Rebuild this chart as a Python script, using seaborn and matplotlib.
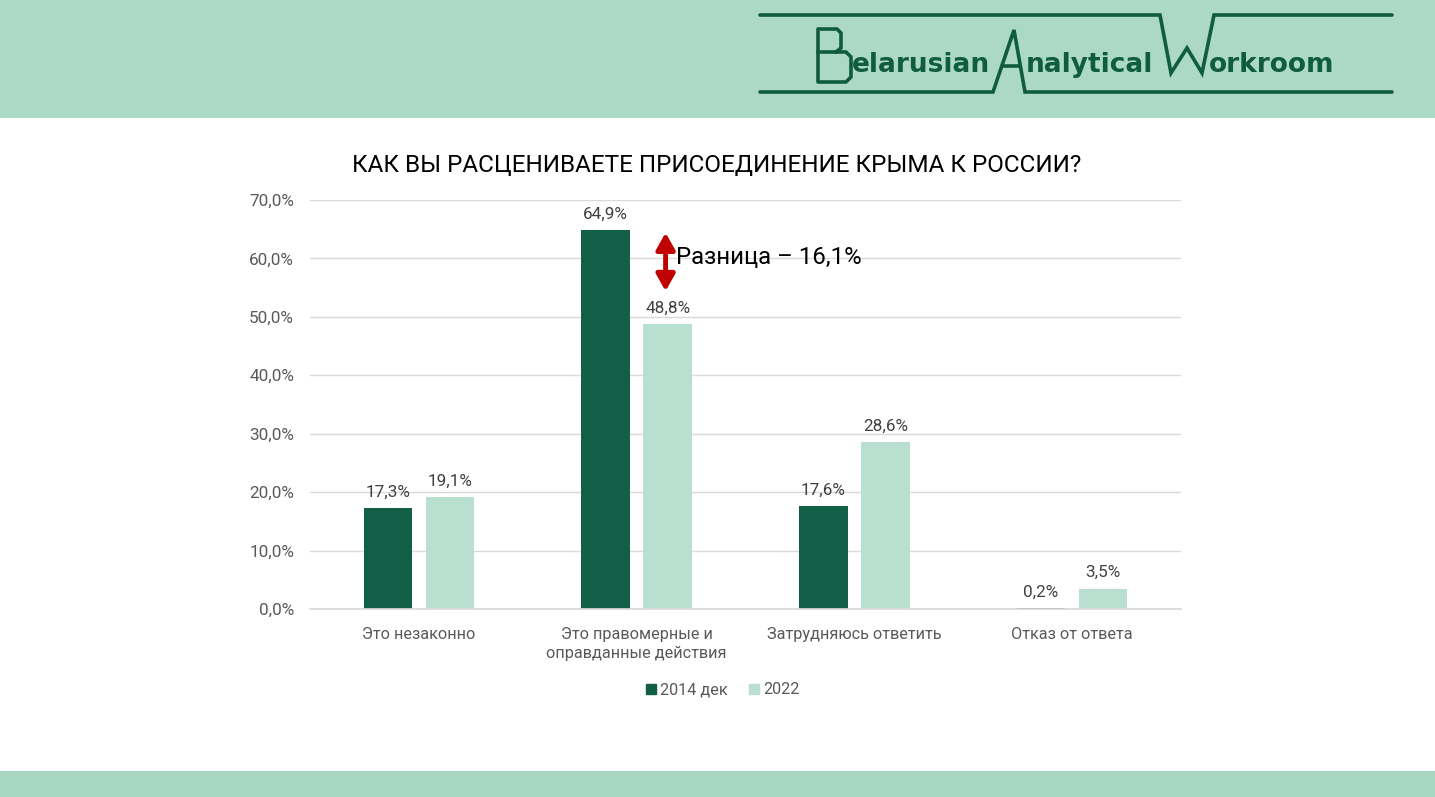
import matplotlib
matplotlib.use("Agg")
import matplotlib.pyplot as plt
import seaborn as sns
import pandas as pd
from matplotlib.patches import Rectangle, FancyArrowPatch
from matplotlib.lines import Line2D
from matplotlib.ticker import FuncFormatter

categories = ["Это незаконно", "Это правомерные и\nоправданные действия",
              "Затрудняюсь ответить", "Отказ от ответа"]
series_names = ["2014 дек", "2022"]
values_2014 = [17.3, 64.9, 17.6, 0.2]
values_2022 = [19.1, 48.8, 28.6, 3.5]
y_ticks = [0, 10, 20, 30, 40, 50, 60, 70]
title = "КАК ВЫ РАСЦЕНИВАЕТЕ ПРИСОЕДИНЕНИЕ КРЫМА К РОССИИ?"
note = "Разница – 16,1%"

colors = ["#135e46", "#b9dfd1"]

sns.set_theme(style="white")
plt.rcParams['font.family'] = ['Roboto', 'DejaVu Sans']

W, H = 1435, 797
fig = plt.figure(figsize=(W / 100, H / 100), dpi=100)

def fx(x):
    return x / W

def fy(y):
    return 1 - y / H

# background bands
band = "#acd9c6"
fig.add_artist(Rectangle((0, fy(118)), 1, 118 / H, transform=fig.transFigure,
                         facecolor=band, edgecolor="none", zorder=0))
fig.add_artist(Rectangle((0, 0), 1, 26 / H, transform=fig.transFigure,
                         facecolor="#a9d8c2", edgecolor="none", zorder=0))

# logo
lc = "#0f5c3f"
top_pts = [(760, 15), (1160, 15), (1171, 73), (1187, 48), (1202, 73), (1214, 15), (1392, 15)]
bot_pts = [(760, 92), (993, 92), (1014, 30), (1025, 92), (1392, 92)]
for pts in (top_pts, bot_pts):
    fig.add_artist(Line2D([fx(p[0]) for p in pts], [fy(p[1]) for p in pts],
                          transform=fig.transFigure, color=lc, lw=2.6,
                          solid_joinstyle="miter"))
fig.add_artist(Line2D([fx(1003), fx(1020)], [fy(66), fy(66)], transform=fig.transFigure,
                      color=lc, lw=2.6))
b_pts = [(836, 52), (841, 48), (841, 33), (837, 29), (818, 29), (818, 82),
         (846, 82), (851, 77), (851, 57), (846, 52), (818, 52)]
fig.add_artist(Line2D([fx(p[0]) for p in b_pts], [fy(p[1]) for p in b_pts],
                      transform=fig.transFigure, color=lc, lw=2.6))
logo_font = dict(family=['DejaVu Sans'], fontweight='bold', fontsize=19, color=lc,
                 va='baseline', ha='left')
fig.text(fx(852), fy(72), "elarusian", **logo_font)
fig.text(fx(1026), fy(72), "nalytical", **logo_font)
fig.text(fx(1209), fy(72), "orkroom", **logo_font)

# chart
ax = fig.add_axes([fx(310), fy(609), (1181 - 310) / W, (609 - 200) / H])
df = pd.DataFrame({
    "category": categories * 2,
    "series": [series_names[0]] * 4 + [series_names[1]] * 4,
    "value": values_2014 + values_2022,
})
sns.barplot(data=df, x="category", y="value", hue="series", palette=colors,
            width=0.57, gap=0.22, ax=ax, legend=False, saturation=1, linewidth=0)

ax.set_xlim(-0.5, 3.5)
ax.set_ylim(0, 70)
ax.set_yticks(y_ticks)
ax.yaxis.set_major_formatter(FuncFormatter(lambda v, p: f"{v:.1f}".replace(".", ",") + "%"))
ax.grid(axis="y", color="#d9d9d9", lw=1)
ax.set_axisbelow(True)
for s in ["top", "right", "left"]:
    ax.spines[s].set_visible(False)
ax.spines["bottom"].set_color("#d9d9d9")
ax.tick_params(axis="both", length=0, colors="#595959")
ax.tick_params(axis="y", pad=11.5, labelsize=12.3)
ax.tick_params(axis="x", pad=13, labelsize=11.7)
ax.set_xlabel("")
ax.set_ylabel("")
for lab in ax.get_xticklabels():
    lab.set_linespacing(1.3)

for cont, vals in zip(ax.containers, [values_2014, values_2022]):
    ax.bar_label(cont, labels=[f"{v:.1f}".replace(".", ",") + "%" for v in vals],
                 padding=6, fontsize=12.3, color="#404040")

# annotation arrow
arrow = FancyArrowPatch((1.133, 54.4), (1.133, 64.4),
                        arrowstyle="<|-|>,head_length=0.5,head_width=0.28",
                        mutation_scale=20, color="#c00000", lw=3.5, shrinkA=0, shrinkB=0)
ax.add_patch(arrow)
ax.text(1.18, 60.1, note, fontsize=17.3, color="black", va="center", ha="left")

fig.text(fx(717), fy(165), title, fontsize=17.5, color="black", ha="center", va="center")

handles = [Line2D([], [], marker="s", linestyle="none", markersize=6.5,
                  markerfacecolor=c, markeredgecolor=c) for c in colors]
fig.legend(handles, series_names, loc="center", bbox_to_anchor=(fx(722), fy(690)),
           ncol=2, frameon=False, fontsize=11.7, handletextpad=0.2, columnspacing=1.2,
           labelcolor="#595959", handlelength=0.8)

fig.savefig("out.png", dpi=100, facecolor="white")
